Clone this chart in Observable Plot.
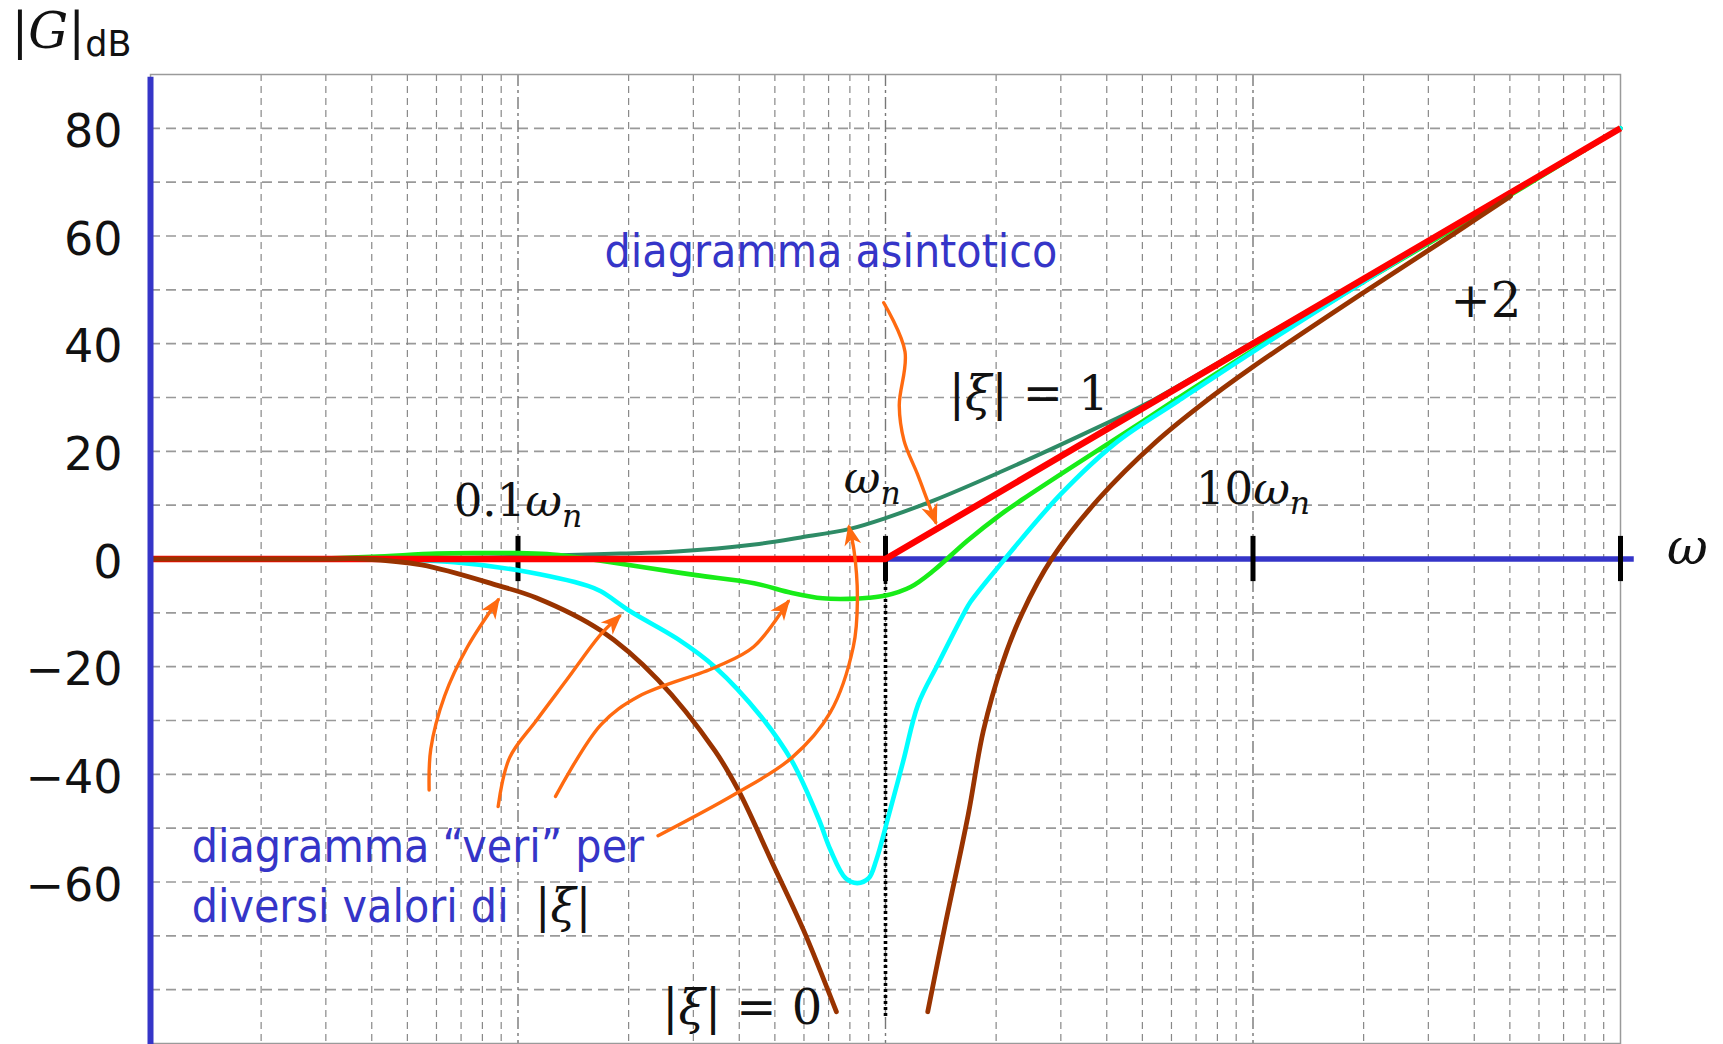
<!DOCTYPE html>
<html>
<head>
<meta charset="utf-8">
<script src="https://cdn.jsdelivr.net/npm/d3@7"></script>
<script src="https://cdn.jsdelivr.net/npm/@observablehq/plot@0.6"></script>
<style>
  html, body { margin: 0; padding: 0; background: #fff; }
  #chart svg { display: block; }
  #chart text { white-space: pre; }
</style>
</head>
<body>
<div id="chart"></div>
<script>
// Bode magnitude of a pair of complex-conjugate zeros; ω is given in units of ωn.

// asymptotic diagram: 0 dB up to ωn, then +2 (40 dB/decade)
const asymptote = [[0.01, 0], [1, 0], [100, 80]];

// "true" curves for several values of |ξ|  — [ω/ωn, dB]
const xiOne = [[0.01, 0], [0.03, 0], [0.06, 0.1], [0.1, 0.4], [0.13, 0.7], [0.19, 1.0], [0.27, 1.4],
  [0.44, 2.7], [0.588, 4.0], [0.8, 5.6], [1.0, 7.6], [1.355, 10.9], [2.06, 16.2], [2.99, 21.2],
  [4.28, 26.2], [5.18, 29.0], [10, 40.2], [20, 52.1], [40, 64.1], [100, 80]];

const xiMid = [[0.01, 0], [0.025, 0], [0.04, 0.4], [0.06, 1.0], [0.08, 1.1], [0.1, 1.1], [0.12, 0.9],
  [0.145, 0.3], [0.168, -0.3], [0.213, -1.4], [0.305, -3.0], [0.439, -4.5], [0.557, -6.3],
  [0.675, -7.3], [0.8, -7.4], [0.9, -7.2], [1.0, -6.8], [1.17, -5.2], [1.355, -2.1], [1.67, 3.4],
  [2.06, 8.3], [2.35, 11.0], [3.37, 18.0], [4.82, 24.8], [5.97, 29.0], [10, 38.8], [20, 51.5],
  [40, 63.6], [100, 80]];

const xiSmall = [[0.01, 0], [0.04, 0], [0.067, -0.6], [0.1, -2.1], [0.155, -5.0], [0.168, -6.0],
  [0.203, -9.8], [0.271, -14.8], [0.344, -20.1], [0.459, -29.3], [0.557, -37.6], [0.658, -48.3],
  [0.708, -54.0], [0.779, -59.3], [0.838, -60.2], [0.9, -59.3], [0.944, -55.9], [1.014, -48.3],
  [1.117, -37.6], [1.227, -27.0], [1.387, -19.6], [1.637, -10.0], [1.706, -7.9], [2.06, -0.9],
  [2.985, 11.9], [4.276, 21.8], [6.27, 29.4], [10, 38.5], [20, 51.5], [40, 64.0], [100, 80]];

const xiZeroLow = [[0.01, 0], [0.03, 0], [0.038, 0], [0.0547, -1.1], [0.088, -4.9], [0.112, -7.2],
  [0.168, -13.3], [0.24, -22.4], [0.344, -35.7], [0.398, -43.0], [0.494, -56.7], [0.598, -68.9],
  [0.735, -84.1]];

const xiZeroHigh = [[1.303, -84.1], [1.452, -68.1], [1.679, -47.5], [1.845, -32.0], [2.08, -19.4],
  [2.35, -10.2], [2.844, 0.2], [3.793, 11.1], [5.43, 21.7], [7.21, 28.6], [10, 35.7], [20, 49.5],
  [35, 60.3], [50.2, 67.4]];

// orange pointers (start → tip)
const arrowToAsymptote = [[0.989, 47.6], [1.13, 38.5], [1.09, 28.5], [1.123, 22.0], [1.221, 15.8], [1.30, 10.9], [1.37, 6.8]];
const arrowToZero = [[0.0573, -42.9], [0.0579, -35.3], [0.0631, -25.5], [0.0729, -16.3], [0.0883, -7.6]];
const arrowToSmall = [[0.0883, -46.0], [0.0949, -36.9], [0.1122, -30.0], [0.1359, -22.4], [0.168, -14.0], [0.189, -10.6]];
const arrowToMid = [[0.1265, -44.1], [0.168, -30.8], [0.2133, -25.5], [0.3446, -20.1], [0.4379, -16.3], [0.5434, -7.9]];
const arrowToOne = [[0.2405, -51.4], [0.3887, -43.7], [0.5565, -36.9], [0.7076, -28.5], [0.8174, -16.3], [0.8386, -7.7], [0.8209, 1.6], [0.796, 5.9]];

// axes
const yTicks = [80, 60, 40, 20, 0, -20, -40, -60];
const gridDb = [-80, -70, -60, -50, -40, -30, -20, -10, 10, 20, 30, 40, 50, 60, 70, 80];
const decades = [0.01, 0.1, 1, 10];
const multipliers = [2, 3, 4, 5, 6, 7, 8, 9];
const decadeLines = [0.1, 1, 10];
const markedTicks = [0.1, 1, 10, 100];

// labels: [ω/ωn, dB at baseline, text]
const tickLabels = [[0.1, 8.0, "0.1ωn"], [0.92, 12.2, "ωn"], [10, 10.3, "10ωn"]];
const mathLabels = [[43, 45.0, "+2"], [2.455, 27.6, "|ξ| = 1"], [0.4077, -86.4, "|ξ| = 0"]];
const noteLabels = [[0.172, 54.3, "diagramma asintotico"],
                    [0.01294, -56.3, "diagramma “veri” per"],
                    [0.01294, -67.4, "diversi valori di |ξ|"]];
const omegaLabel = [[152, -0.9, "ω"]];

const W = 1723, H = 1044;
const margin = {left: 150, right: 103, top: 74, bottom: 1};
const xDomain = [0.01, 100], yDomain = [-90, 90];

const blue = "#3535c8", orange = "#ff6a10";
const serif = "'DejaVu Serif', serif";
const sans = "'DejaVu Sans', sans-serif";
const noteFont = "'DejaVu Sans Condensed', 'DejaVu Sans', sans-serif";

const minorX = decades.flatMap(d => multipliers.map(m => d * m));

const curves = [
  {pts: xiOne, stroke: "#2e8b66", width: 4},
  {pts: xiMid, stroke: "#18ec18", width: 4.6},
  {pts: xiSmall, stroke: "#00ffff", width: 4.6},
  {pts: asymptote, stroke: "#ff0000", width: 6.4, curve: "linear", cap: "butt"},
  {pts: xiZeroLow, stroke: "#993300", width: 4.8},
  {pts: xiZeroHigh, stroke: "#993300", width: 4.8}
];
const arrows = [arrowToAsymptote, arrowToZero, arrowToSmall, arrowToMid, arrowToOne];

// pixel-space scales, used to orient the arrowheads along each pointer
const sx = Plot.scale({x: {type: "log", domain: xDomain, range: [margin.left, W - margin.right]}});
const sy = Plot.scale({y: {domain: yDomain, range: [H - margin.bottom, margin.top]}});
const heads = arrows.map(p => {
  const a = p[p.length - 2], b = p[p.length - 1];
  const ang = Math.atan2(sy.apply(b[1]) - sy.apply(a[1]), sx.apply(b[0]) - sx.apply(a[0])) * 180 / Math.PI;
  return {w: b[0], db: b[1], angle: ang};
});

const arrowHead = {
  draw(ctx) {
    ctx.moveTo(3, 0);
    ctx.lineTo(-18, -8.5);
    ctx.lineTo(-12, 0);
    ctx.lineTo(-18, 8.5);
    ctx.closePath();
  }
};

const fmt = d => d < 0 ? "\u2212" + (-d) : String(d);

const chart = Plot.plot({
  width: W, height: H,
  marginLeft: margin.left, marginRight: margin.right, marginTop: margin.top, marginBottom: margin.bottom,
  x: {type: "log", domain: xDomain, axis: null},
  y: {domain: yDomain, axis: null},
  style: {fontFamily: sans, background: "white", overflow: "visible"},
  marks: [
    // grid
    Plot.ruleY(gridDb, {stroke: "#999", strokeWidth: 1.7, strokeDasharray: "10,6"}),
    Plot.ruleX(minorX, {stroke: "#888", strokeWidth: 1.2, strokeDasharray: "7,5"}),
    Plot.ruleX(decadeLines, {stroke: "#777", strokeWidth: 1.4, strokeDasharray: "12,4,3,4"}),
    Plot.frame({stroke: "#9a9a9a", strokeWidth: 1.5}),
    Plot.axisY({ticks: yTicks, tickSize: 0, tickPadding: 28, tickFormat: fmt, fontSize: 46,
                fontFamily: sans, fill: "#111", label: null, dy: 4}),
    // ω axis
    Plot.ruleY([0], {x1: 0.01, x2: 109, stroke: blue, strokeWidth: 5.5}),
    Plot.ruleX(markedTicks, {y1: -4.2, y2: 4.2, stroke: "black", strokeWidth: 5}),
    Plot.ruleX([1], {y1: -85, y2: -4.2, stroke: "black", strokeWidth: 3.6, strokeDasharray: "3,3"}),
    // curves
    curves.map(c => Plot.line(c.pts, {x: d => d[0], y: d => d[1], stroke: c.stroke, strokeWidth: c.width,
      curve: c.curve || "catmull-rom", strokeLinecap: c.cap || "round"})),
    // |G| axis
    Plot.ruleX([0.01], {y1: -90.2, y2: 89.5, stroke: blue, strokeWidth: 6}),
    // pointers
    arrows.map(p => Plot.line(p, {x: d => d[0], y: d => d[1], stroke: orange, strokeWidth: 3.4, curve: "catmull-rom"})),
    Plot.dot(heads, {x: "w", y: "db", rotate: "angle", symbol: arrowHead, fill: orange, stroke: "none", r: 8}),
    // labels
    Plot.text(tickLabels, {x: d => d[0], y: d => d[1], text: d => d[2], fontFamily: serif, fontSize: 45,
      textAnchor: "middle", lineAnchor: "bottom", fill: "#111"}),
    Plot.text(mathLabels, {x: d => d[0], y: d => d[1], text: d => d[2], fontFamily: serif, fontSize: 48,
      textAnchor: "middle", lineAnchor: "bottom", fill: "#111"}),
    Plot.text(omegaLabel, {x: d => d[0], y: d => d[1], text: d => d[2], fontFamily: serif, fontSize: 50,
      fontStyle: "italic", textAnchor: "middle", lineAnchor: "bottom", fill: "#111"}),
    Plot.text(noteLabels, {x: d => d[0], y: d => d[1], text: d => d[2], fontFamily: noteFont, fontSize: 46,
      textAnchor: "start", lineAnchor: "bottom", fill: blue}),
    Plot.text(["|G|dB"], {frameAnchor: "top-left", dx: -139, dy: -27, text: d => d, fontFamily: serif,
      fontSize: 50, textAnchor: "start", lineAnchor: "bottom", fill: "#111"})
  ]
});

// mixed-style runs (italic symbols, subscripts) inside the labels
const sub = (size) => ({size: size * 0.7, shift: size * 0.24, italic: true});
const rich = new Map([
  ["|G|dB", [{t: "|"}, {t: "G", italic: true}, {t: "|"}, {t: "dB", family: sans, size: 35, shift: 8}]],
  ["0.1ωn", [{t: "0.1"}, {t: "ω", italic: true}, {t: "n", ...sub(45)}]],
  ["ωn", [{t: "ω", italic: true}, {t: "n", ...sub(45)}]],
  ["10ωn", [{t: "10"}, {t: "ω", italic: true}, {t: "n", ...sub(45)}]],
  ["|ξ| = 1", [{t: "|"}, {t: "ξ", italic: true}, {t: "| = 1"}]],
  ["|ξ| = 0", [{t: "|"}, {t: "ξ", italic: true}, {t: "| = 0"}]],
  ["diversi valori di |ξ|", [{t: "diversi valori di  "}, {t: "|", family: serif, fill: "#111"},
    {t: "ξ", family: serif, italic: true, fill: "#111"}, {t: "|", family: serif, fill: "#111"}]]
]);

d3.select(chart).selectAll("text").each(function () {
  const parts = rich.get(this.textContent);
  if (!parts) return;
  const el = d3.select(this).text(null);
  let shift = 0;
  for (const p of parts) {
    const ts = el.append("tspan").text(p.t);
    if (p.italic) ts.attr("font-style", "italic");
    if (p.family) ts.attr("font-family", p.family);
    if (p.size) ts.attr("font-size", p.size);
    if (p.fill) ts.attr("fill", p.fill);
    const s = p.shift || 0;
    if (s !== shift) { ts.attr("dy", s - shift); shift = s; }
  }
});

document.getElementById("chart").appendChild(chart);
</script>
</body>
</html>
